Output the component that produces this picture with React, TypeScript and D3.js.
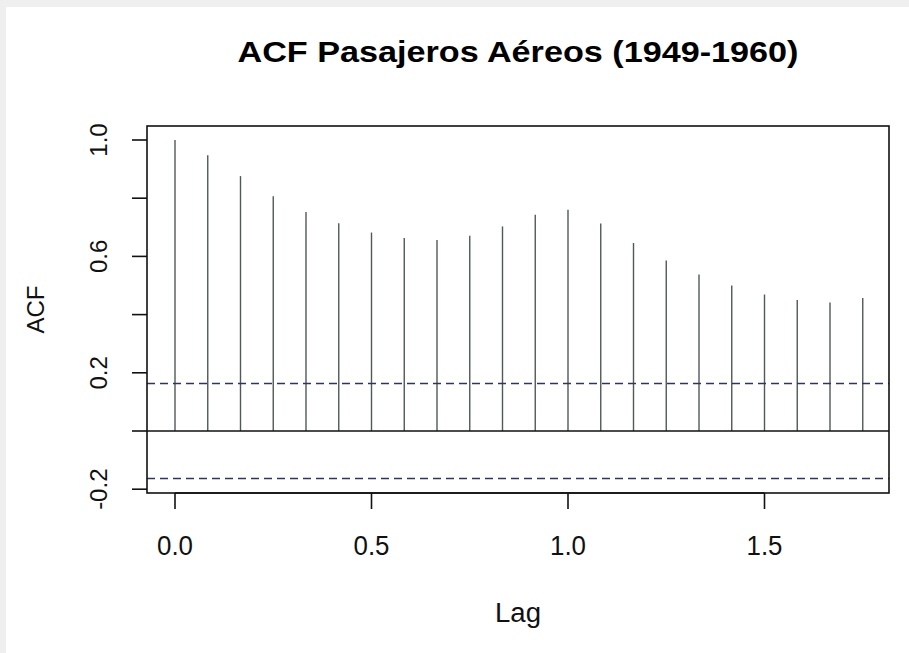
import * as d3 from "d3";
import React, { useRef, useEffect } from "react";

// AirPassengers ACF, lags in months (shown as years)
const lagMonths = [0, 1, 2, 3, 4, 5, 6, 7, 8, 9, 10, 11, 12, 13, 14, 15, 16, 17, 18, 19, 20, 21];
const acfValues = [
  1.0, 0.948, 0.876, 0.807, 0.753, 0.714, 0.682, 0.663, 0.656, 0.671, 0.703,
  0.743, 0.76, 0.713, 0.646, 0.586, 0.538, 0.5, 0.469, 0.45, 0.442, 0.457,
];
const ciBound = 0.163;
const xTicks = [0, 0.5, 1.0, 1.5];
const yTicks = [-0.2, 0, 0.2, 0.4, 0.6, 0.8, 1.0];
const yLabelled = [-0.2, 0.2, 0.6, 1.0];

const width = 909;
const height = 653;
const font = "'Liberation Sans', Arial, sans-serif";

export default function App() {
  const ref = useRef<SVGSVGElement>(null);

  useEffect(() => {
    const svg = d3.select(ref.current);
    svg.selectAll("*").remove();

    // page background with light grey frame
    svg.append("rect").attr("width", width).attr("height", height).attr("fill", "#efefef");
    svg.append("rect").attr("x", 6).attr("y", 7).attr("width", width - 6).attr("height", height - 7).attr("fill", "#ffffff");

    const x = d3.scaleLinear().domain([0, 1]).range([175, 568]);
    const y = d3.scaleLinear().domain([0, 1]).range([431, 140]);

    const left = 147, right = 889, top = 126, bottom = 493;

    // ACF spikes
    svg
      .append("g")
      .selectAll("line")
      .data(lagMonths)
      .enter()
      .append("line")
      .attr("x1", (d) => x(d / 12))
      .attr("x2", (d) => x(d / 12))
      .attr("y1", y(0))
      .attr("y2", (d, i) => y(acfValues[i]))
      .attr("stroke", "#4f5a58")
      .attr("stroke-width", 1.4);

    // zero line
    svg
      .append("line")
      .attr("x1", left)
      .attr("x2", right)
      .attr("y1", y(0))
      .attr("y2", y(0))
      .attr("stroke", "#111")
      .attr("stroke-width", 1.6);

    // confidence bounds
    [ciBound, -ciBound].forEach((b) => {
      svg
        .append("line")
        .attr("x1", left)
        .attr("x2", right)
        .attr("y1", y(b))
        .attr("y2", y(b))
        .attr("stroke", "#2c3566")
        .attr("stroke-width", 1.6)
        .attr("stroke-dasharray", "8,5");
    });

    // box
    svg
      .append("rect")
      .attr("x", left)
      .attr("y", top)
      .attr("width", right - left)
      .attr("height", bottom - top)
      .attr("fill", "none")
      .attr("stroke", "#111")
      .attr("stroke-width", 1.6);

    // x axis
    const gx = svg.append("g");
    gx.append("line")
      .attr("x1", x(0))
      .attr("x2", x(1.5))
      .attr("y1", bottom)
      .attr("y2", bottom)
      .attr("stroke", "#111")
      .attr("stroke-width", 1.6);
    xTicks.forEach((t) => {
      gx.append("line")
        .attr("x1", x(t))
        .attr("x2", x(t))
        .attr("y1", bottom)
        .attr("y2", bottom + 16)
        .attr("stroke", "#111")
        .attr("stroke-width", 1.6);
      gx.append("text")
        .attr("x", x(t))
        .attr("y", 555)
        .attr("text-anchor", "middle")
        .attr("font-family", font)
        .attr("font-size", 27)
        .attr("fill", "#111")
        .attr("textLength", 36)
        .attr("lengthAdjust", "spacingAndGlyphs")
        .text(t.toFixed(1));
    });

    // y axis
    const gy = svg.append("g");
    yTicks.forEach((t) => {
      gy.append("line")
        .attr("x1", left - 15)
        .attr("x2", left)
        .attr("y1", y(t))
        .attr("y2", y(t))
        .attr("stroke", "#111")
        .attr("stroke-width", 1.6);
    });
    yLabelled.forEach((t) => {
      gy.append("text")
        .attr("transform", `translate(107,${y(t)}) rotate(-90)`)
        .attr("text-anchor", "middle")
        .attr("font-family", font)
        .attr("font-size", 24)
        .attr("fill", "#111")
        .text(t.toFixed(1));
    });

    // axis titles
    svg
      .append("text")
      .attr("x", 518)
      .attr("y", 622)
      .attr("text-anchor", "middle")
      .attr("font-family", font)
      .attr("font-size", 27)
      .attr("fill", "#111")
      .attr("textLength", 46)
      .attr("lengthAdjust", "spacingAndGlyphs")
      .text("Lag");
    svg
      .append("text")
      .attr("transform", `translate(44,${(top + bottom) / 2}) rotate(-90)`)
      .attr("text-anchor", "middle")
      .attr("font-family", font)
      .attr("font-size", 24)
      .attr("fill", "#111")
      .text("ACF");

    // main title
    svg
      .append("text")
      .attr("x", 518)
      .attr("y", 62)
      .attr("text-anchor", "middle")
      .attr("font-family", font)
      .attr("font-size", 29)
      .attr("font-weight", "bold")
      .attr("fill", "#000")
      .attr("textLength", 561)
      .attr("lengthAdjust", "spacingAndGlyphs")
      .text("ACF Pasajeros Aéreos (1949-1960)");
  }, []);

  return (
    <svg
      ref={ref}
      width={width}
      height={height}
      style={{ position: "absolute", left: 0, top: 0, display: "block" }}
    ></svg>
  );
}
